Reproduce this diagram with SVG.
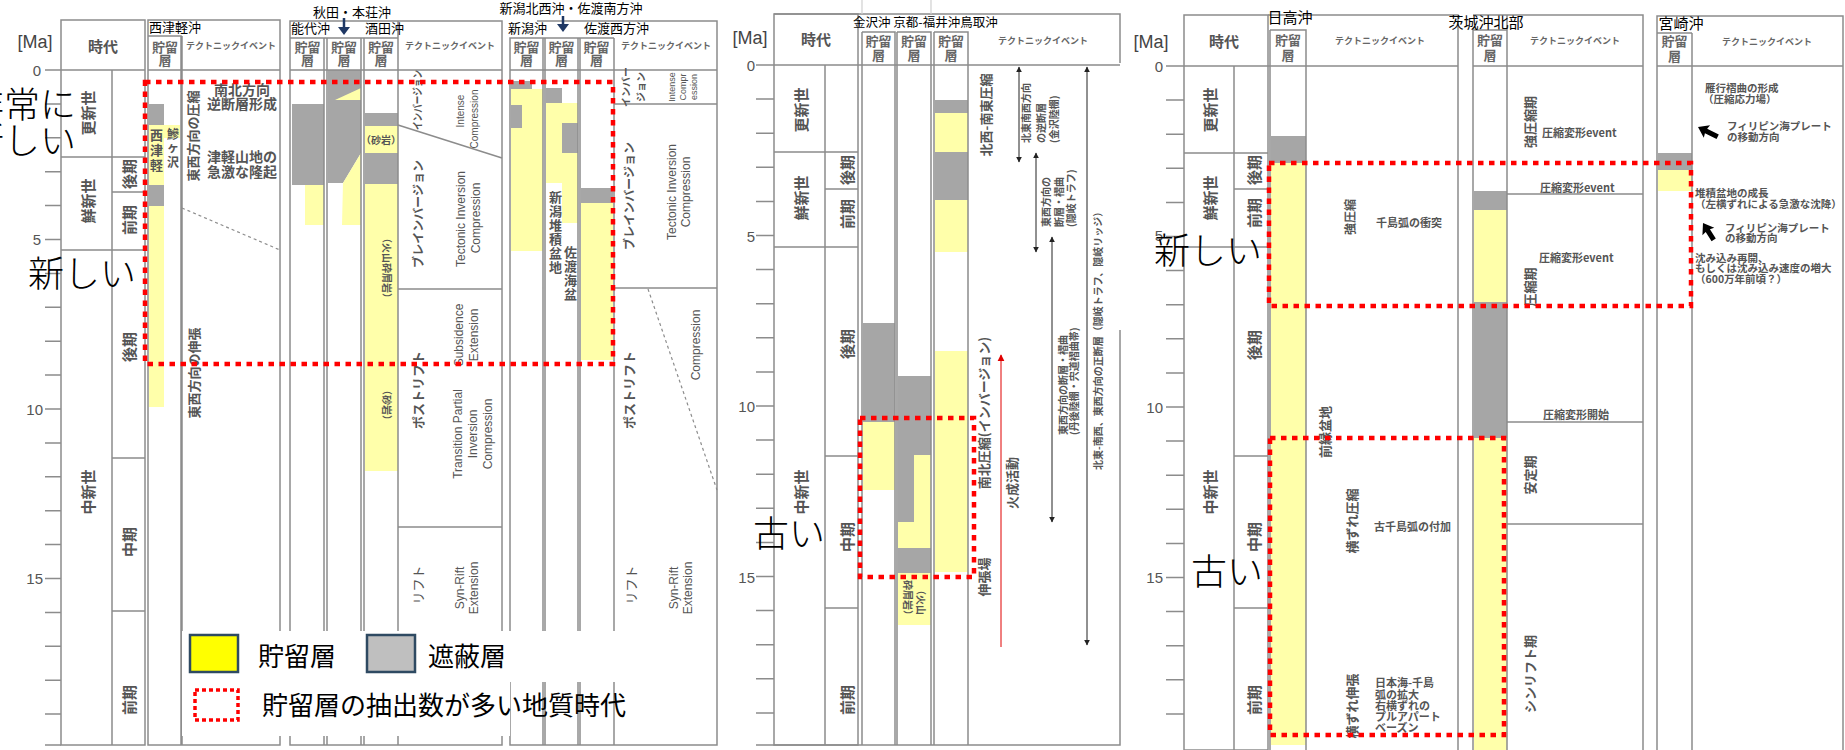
<svg xmlns="http://www.w3.org/2000/svg" width="1845" height="750" viewBox="0 0 1845 750">
<defs>
<style>
.ln{stroke:#8c8c8c;stroke-width:1.5;fill:none}
.bx{fill:#fff;stroke:#8c8c8c;stroke-width:1.5}
.y{fill:#ffffaa}
.g{fill:#a6a6a6}
.rd{fill:none;stroke:#ff0000;stroke-width:4.5;stroke-dasharray:5.5 5.5}
text{font-family:"Noto Sans CJK JP","Noto Sans",sans-serif}
.hd{font-size:15px;font-weight:bold;fill:#555;text-anchor:middle}
.sh{font-size:13px;font-weight:bold;fill:#666;text-anchor:middle}
.te{font-size:9px;font-weight:bold;fill:#666;text-anchor:middle}
.era{font-size:15px;font-weight:bold;fill:#555;text-anchor:middle;dominant-baseline:central}
.num{font-family:"Liberation Sans",Arial,sans-serif;font-size:15px;fill:#555;text-anchor:end;dominant-baseline:central}
.ma{font-family:"Liberation Sans",Arial,sans-serif;font-size:18px;fill:#444;text-anchor:middle;dominant-baseline:central}
.ttl{font-size:13px;fill:#000}
.v{font-size:13px;font-weight:bold;fill:#555;text-anchor:middle;dominant-baseline:central}
.vs{font-size:10px;font-weight:bold;fill:#555;dominant-baseline:central}
.en{font-family:"Liberation Sans",Arial,sans-serif;font-size:12px;fill:#555;text-anchor:middle;dominant-baseline:central}
.en2{font-family:"Liberation Sans",Arial,sans-serif;font-size:10px;fill:#555;text-anchor:middle;dominant-baseline:central}
.big{font-size:36px;fill:#000;font-weight:300}
.ev{font-size:11px;font-weight:bold;fill:#555}
.ev2{font-size:10.5px;font-weight:bold;fill:#555}
.st{font-size:14px;font-weight:bold;fill:#555;text-anchor:middle}
.lg{font-size:26px;fill:#000}
</style>
<marker id="ah" viewBox="0 0 10 10" refX="9" refY="5" markerWidth="6" markerHeight="7" markerUnits="userSpaceOnUse" orient="auto-start-reverse"><path d="M0,0L10,5L0,10z" fill="#222"/></marker>
<marker id="ahr" viewBox="0 0 10 10" refX="9" refY="5" markerWidth="7" markerHeight="8" markerUnits="userSpaceOnUse" orient="auto-start-reverse"><path d="M0,0L10,5L0,10z" fill="#e00000"/></marker>
</defs>
<rect width="1845" height="750" fill="#fff"/>

<!-- ================= LEFT PANEL ================= -->
<g id="left-time">
<rect class="bx" x="61" y="20" width="84" height="725"/>
<path class="ln" d="M45 70H145M112 70V745M61 157H145M61 250H145M112 192H145M112 458H145M112 611H145"/>
<path class="ln" d="M45 103.9H61M45 137.8H61M45 171.7H61M45 205.6H61M45 239.5H61M45 273.4H61M45 307.3H61M45 341.2H61M45 375.1H61M45 409H61M45 442.9H61M45 476.8H61M45 510.7H61M45 544.6H61M45 578.5H61M45 612.4H61M45 646.3H61M45 680.2H61M45 714.1H61M45 745H61"/>
<text class="ma" x="35" y="42">[Ma]</text>
<text class="num" x="41" y="70">0</text>
<text class="num" x="41" y="239.5">5</text>
<text class="num" x="43" y="409">10</text>
<text class="num" x="43" y="578.5">15</text>
<text class="hd" x="103" y="52">時代</text>
<text class="era" transform="translate(87,113) rotate(-90)">更新世</text>
<text class="era" transform="translate(87,201) rotate(-90)">鮮新世</text>
<text class="era" transform="translate(128,174) rotate(-90)">後期</text>
<text class="era" transform="translate(128,220) rotate(-90)">前期</text>
<text class="era" transform="translate(128,347) rotate(-90)">後期</text>
<text class="era" transform="translate(87,492) rotate(-90)">中新世</text>
<text class="era" transform="translate(128,542) rotate(-90)">中期</text>
<text class="era" transform="translate(128,700) rotate(-90)">前期</text>
</g>

<g id="nishitsugaru">
<rect class="bx" x="148" y="20" width="132" height="725"/>
<rect class="g" x="149" y="104" width="15" height="21"/>
<rect class="y" x="149" y="125" width="15" height="60"/>
<rect class="y" x="164" y="125" width="16" height="13"/>
<rect class="g" x="149" y="185" width="15" height="21"/>
<rect class="y" x="149" y="206" width="15" height="201"/>
<path class="ln" d="M148 36H181V745M182 36V745M148 70H280"/>
<text class="ttl" x="149" y="32">西津軽沖</text>
<text class="sh" x="165" y="52">貯留</text>
<text class="sh" x="165" y="65">層</text>
<text class="te" x="231" y="49">テクトニックイベント</text>
<text class="st" style="font-size:13px"><tspan x="156.5" y="140">西</tspan><tspan x="156.5" y="155">津</tspan><tspan x="156.5" y="170">軽</tspan></text>
<text class="st" style="font-size:12px"><tspan x="173" y="139">鰺</tspan><tspan x="173" y="152">ヶ</tspan><tspan x="173" y="167">沢</tspan></text>
<text class="st" x="242" y="95">南北方向</text>
<text class="st" x="242" y="109">逆断層形成</text>
<text class="st" x="242" y="162">津軽山地の</text>
<text class="st" x="242" y="177">急激な隆起</text>
<text class="v" transform="translate(192,136) rotate(-90)">東西方向の圧縮</text>
<text class="v" transform="translate(193,373) rotate(-90)">東西方向の伸張</text>
<path d="M182 208L280 250" stroke="#8c8c8c" stroke-width="1.2" stroke-dasharray="3 3" fill="none"/>
</g>

<g id="akita-honjo">
<rect class="bx" x="290" y="21" width="212" height="724"/>
<rect class="g" x="292" y="104" width="32" height="81"/>
<rect class="y" x="305" y="185" width="19" height="40"/>
<polygon class="g" points="328,70 361,70 361,153 343,183 328,183"/>
<polygon class="y" points="335,100 361,88 361,100"/>
<polygon class="y" points="343,183 361,153 361,225 342,225"/>
<rect class="g" x="365" y="113" width="33" height="13"/>
<rect class="y" x="365" y="126" width="33" height="27"/>
<rect class="g" x="365" y="153" width="33" height="31"/>
<rect class="y" x="365" y="184" width="33" height="287"/>
<path class="ln" d="M290 38H398M324 38V745M327 38V745M361 38V745M364 38V745M398 21V745M290 70H502M398 289H502M398 527H502"/>
<path d="M398 125L502 158" stroke="#8c8c8c" stroke-width="1.5"/>
<text class="ttl" x="352" y="17" text-anchor="middle">秋田・本荘沖</text>
<text class="ttl" x="291" y="33">能代沖</text>
<text class="ttl" x="365" y="33">酒田沖</text>
<path d="M344 18V28" stroke="#1f3864" stroke-width="2.5"/>
<polygon points="338,27 350,27 344,35" fill="#1f3864"/>
<text class="sh" x="307.5" y="52">貯留</text><text class="sh" x="307.5" y="65">層</text>
<text class="sh" x="344" y="52">貯留</text><text class="sh" x="344" y="65">層</text>
<text class="sh" x="381" y="52">貯留</text><text class="sh" x="381" y="65">層</text>
<text class="te" x="450" y="49">テクトニックイベント</text>
<text class="ev" x="381" y="144" text-anchor="middle" style="font-size:10px">（砂岩）</text>
<text class="vs" transform="translate(387,268) rotate(90)" text-anchor="middle">（火山砕屑岩）</text>
<text class="vs" transform="translate(387,405) rotate(90)" text-anchor="middle">（砂岩）</text>
<text class="v" transform="translate(417,100) rotate(-90)" style="font-size:11px" textLength="60" lengthAdjust="spacingAndGlyphs">インバージョン</text>
<text class="en2" transform="translate(460,111) rotate(-90)">Intense</text>
<text class="en2" transform="translate(474,119) rotate(-90)">Compression</text>
<text class="v" transform="translate(417,214) rotate(-90)" style="font-size:12px">ブレインバージョン</text>
<text class="en" transform="translate(461,219) rotate(-90)">Tectonic Inversion</text>
<text class="en" transform="translate(476,218) rotate(-90)">Compression</text>
<text class="en" transform="translate(459,335) rotate(-90)">Subsidence</text>
<text class="en" transform="translate(474,335) rotate(-90)">Extension</text>
<text class="v" transform="translate(417,390) rotate(-90)">ポストリフト</text>
<text class="en" transform="translate(458,434) rotate(-90)">Transition Partial</text>
<text class="en" transform="translate(473,434) rotate(-90)">Inversion</text>
<text class="en" transform="translate(488,434) rotate(-90)">Compression</text>
<text class="v" transform="translate(417,585) rotate(-90)" style="font-weight:normal">リフト</text>
<text class="en" transform="translate(460,588) rotate(-90)">Syn-Rift</text>
<text class="en" transform="translate(474,588) rotate(-90)">Extension</text>
</g>

<g id="niigata-sado">
<rect x="510" y="38" width="207" height="707" fill="#fff"/>
<rect class="g" x="511" y="81" width="21" height="8"/>
<rect class="y" x="511" y="89" width="32" height="162"/>
<rect class="g" x="511" y="105" width="11" height="23"/>
<rect class="g" x="546" y="88" width="16" height="15"/>
<rect class="y" x="546" y="103" width="32" height="20"/>
<rect class="y" x="546" y="123" width="16" height="60"/>
<rect class="g" x="562" y="123" width="16" height="30"/>
<rect class="y" x="562" y="153" width="16" height="70"/>
<rect class="g" x="581" y="188" width="32" height="15"/>
<rect class="y" x="581" y="203" width="32" height="157"/>
<path class="ln" d="M537 21H717V745H510V38H614M543 38V745M545 38V745M578 38V745M580 38V745M614 38V745M510 70H717M614 104H717M614 288H717"/>
<path d="M648 289L717 490" stroke="#8c8c8c" stroke-width="1.2" stroke-dasharray="3 3" fill="none"/>
<text class="ttl" x="571" y="13" text-anchor="middle">新潟北西沖・佐渡南方沖</text>
<text class="ttl" x="508" y="33">新潟沖</text>
<text class="ttl" x="584" y="33">佐渡西方沖</text>
<path d="M563 16V25" stroke="#1f3864" stroke-width="2.5"/>
<polygon points="557,24 569,24 563,32" fill="#1f3864"/>
<text class="sh" x="526.5" y="52">貯留</text><text class="sh" x="526.5" y="65">層</text>
<text class="sh" x="561.5" y="52">貯留</text><text class="sh" x="561.5" y="65">層</text>
<text class="sh" x="596.5" y="52">貯留</text><text class="sh" x="596.5" y="65">層</text>
<text class="te" x="666" y="49">テクトニックイベント</text>
<text class="st" style="font-size:13px"><tspan x="555.5" y="202">新</tspan><tspan x="555.5" y="216">潟</tspan><tspan x="555.5" y="230">堆</tspan><tspan x="555.5" y="244">積</tspan><tspan x="555.5" y="258">盆</tspan><tspan x="555.5" y="272">地</tspan></text>
<text class="st" style="font-size:13px"><tspan x="570.5" y="257">佐</tspan><tspan x="570.5" y="271">渡</tspan><tspan x="570.5" y="285">海</tspan><tspan x="570.5" y="299">盆</tspan></text>
<text class="v" transform="translate(625,87) rotate(-90)" style="font-size:10px">インバー</text>
<text class="v" transform="translate(640,87) rotate(-90)" style="font-size:10px">ジョン</text>
<text class="en2" transform="translate(672,87) rotate(-90)" style="font-size:9px">Intense</text>
<text class="en2" transform="translate(683,87) rotate(-90)" style="font-size:9px">Compr</text>
<text class="en2" transform="translate(694,87) rotate(-90)" style="font-size:9px">ession</text>
<text class="v" transform="translate(628,196) rotate(-90)" style="font-size:12px">ブレインバージョン</text>
<text class="en" transform="translate(672,192) rotate(-90)">Tectonic Inversion</text>
<text class="en" transform="translate(686,192) rotate(-90)">Compression</text>
<text class="v" transform="translate(628,390) rotate(-90)">ポストリフト</text>
<text class="en" transform="translate(696,345) rotate(-90)">Compression</text>
<text class="v" transform="translate(630,585) rotate(-90)" style="font-weight:normal">リフト</text>
<text class="en" transform="translate(674,588) rotate(-90)">Syn-Rift</text>
<text class="en" transform="translate(688,588) rotate(-90)">Extension</text>
</g>

<rect class="rd" x="145" y="82" width="468" height="282"/>

<g id="legend">
<rect x="182" y="631" width="434" height="51" fill="#fff"/>
<rect x="182" y="631" width="328" height="105" fill="#fff"/>
<rect x="190" y="635" width="48" height="37" fill="#ffff00" stroke="#2e4a62" stroke-width="2.5"/>
<text class="lg" x="258" y="666">貯留層</text>
<rect x="367" y="635" width="48" height="37" fill="#bfbfbf" stroke="#2e4a62" stroke-width="2.5"/>
<text class="lg" x="428" y="666">遮蔽層</text>
<rect x="195" y="690" width="43" height="30" fill="none" stroke="#ff0000" stroke-width="3.5" stroke-dasharray="4 3"/>
<text class="lg" x="262" y="715">貯留層の抽出数が多い地質時代</text>
</g>

<text class="big" x="76" y="118" text-anchor="end">非常に</text>
<text class="big" x="76" y="154" text-anchor="end">新しい</text>
<text class="big" x="28" y="287">新しい</text>

<!-- ================= MIDDLE PANEL ================= -->
<g id="middle-time">
<rect class="bx" x="774" y="14" width="84" height="731"/>
<path class="ln" d="M756 65H1120M825 65V745M774 152H858M774 247H858M825 189H858M825 456H858M825 608H858M774 14H1120V63M1120 330V745H756"/>
<path d="M862 0V14M931 0V14" stroke="#d0d0d0" stroke-width="1.2"/>
<path class="ln" d="M756 99.1H774M756 133.2H774M756 167.3H774M756 201.4H774M756 235.5H774M756 269.6H774M756 303.7H774M756 337.8H774M756 371.9H774M756 406H774M756 440.1H774M756 474.2H774M756 508.3H774M756 542.4H774M756 576.5H774M756 610.6H774M756 644.7H774M756 678.8H774M756 712.9H774"/>
<text class="ma" x="750" y="38">[Ma]</text>
<text class="num" x="755" y="65">0</text>
<text class="num" x="755" y="236">5</text>
<text class="num" x="755" y="406">10</text>
<text class="num" x="755" y="577">15</text>
<text class="hd" x="816" y="45">時代</text>
<text class="era" transform="translate(800,110) rotate(-90)">更新世</text>
<text class="era" transform="translate(800,198) rotate(-90)">鮮新世</text>
<text class="era" transform="translate(846,170) rotate(-90)">後期</text>
<text class="era" transform="translate(846,214) rotate(-90)">前期</text>
<text class="era" transform="translate(846,344) rotate(-90)">後期</text>
<text class="era" transform="translate(800,492) rotate(-90)">中新世</text>
<text class="era" transform="translate(846,537) rotate(-90)">中期</text>
<text class="era" transform="translate(846,700) rotate(-90)">前期</text>
</g>

<g id="hokuriku-sanin">
<rect class="g" x="863" y="323" width="32" height="99"/>
<rect class="y" x="863" y="422" width="32" height="68"/>
<rect class="g" x="898" y="376" width="33" height="79"/>
<rect class="g" x="898" y="455" width="16" height="67"/>
<rect class="y" x="914" y="455" width="17" height="93"/>
<rect class="y" x="898" y="522" width="16" height="26"/>
<rect class="g" x="898" y="548" width="33" height="25"/>
<rect class="y" x="898" y="573" width="33" height="52"/>
<rect class="g" x="935" y="100" width="33" height="13"/>
<rect class="y" x="935" y="113" width="33" height="39"/>
<rect class="g" x="935" y="152" width="33" height="48"/>
<rect class="y" x="935" y="200" width="33" height="52"/>
<rect class="y" x="935" y="351" width="33" height="221"/>
<path class="ln" d="M862 32H895V745M862 32V745M897 32H931V745M897 32V745M934 32H968V745M934 32V745"/>
<text class="ttl" x="853" y="27" style="font-size:12.5px">金沢沖 京都-福井沖鳥取沖</text>
<text class="sh" x="878.5" y="46">貯留</text><text class="sh" x="878.5" y="60">層</text>
<text class="sh" x="914" y="46">貯留</text><text class="sh" x="914" y="60">層</text>
<text class="sh" x="951" y="46">貯留</text><text class="sh" x="951" y="60">層</text>
<text class="te" x="1043" y="44">テクトニックイベント</text>
<text class="vs" transform="translate(921,600) rotate(90)" text-anchor="middle">（火山</text>
<text class="vs" transform="translate(908,600) rotate(90)" text-anchor="middle">砕屑岩）</text>
<text class="v" transform="translate(985,115) rotate(-90)">北西-南東圧縮</text>
<text class="v" transform="translate(983,413) rotate(-90)">南北圧縮(インバージョン)</text>
<text class="v" transform="translate(983,577) rotate(-90)">伸張場</text>
<text class="v" transform="translate(1011,483) rotate(-90)">火成活動</text>
<text class="vs" transform="translate(1025,143) rotate(-90)">北東南西方向</text>
<text class="vs" transform="translate(1040,143) rotate(-90)">の逆断層</text>
<text class="vs" transform="translate(1053,143) rotate(-90)">(金沢陸棚)</text>
<text class="vs" transform="translate(1045,227) rotate(-90)">東西方向の</text>
<text class="vs" transform="translate(1058,227) rotate(-90)">断層・褶曲</text>
<text class="vs" transform="translate(1070,227) rotate(-90)">(隠岐トラフ)</text>
<text class="vs" transform="translate(1062,435) rotate(-90)">東西方向の断層・褶曲</text>
<text class="vs" transform="translate(1073,435) rotate(-90)">(丹後陸棚・宍道褶曲帯)</text>
<text class="vs" transform="translate(1097,470) rotate(-90)">北東-南西、東西方向の正断層（隠岐トラフ、隠岐リッジ）</text>
</g>

<rect class="rd" x="860" y="418" width="114" height="159"/>
<text class="big" x="753" y="547">古い</text>

<!-- ================= RIGHT PANEL ================= -->
<g id="right-time">
<rect x="1184" y="15" width="84" height="735" fill="#fff" stroke="#8c8c8c" stroke-width="1.5"/>
<path class="ln" d="M1166 66H1458M1234 66V750M1184 153H1268M1184 247H1268M1234 189H1268M1234 456H1268M1234 608H1268"/>
<path class="ln" d="M1166 100.1H1184M1166 134.2H1184M1166 168.3H1184M1166 202.4H1184M1166 236.5H1184M1166 270.6H1184M1166 304.7H1184M1166 338.8H1184M1166 372.9H1184M1166 407H1184M1166 441.1H1184M1166 475.2H1184M1166 509.3H1184M1166 543.4H1184M1166 577.5H1184M1166 611.6H1184M1166 645.7H1184M1166 679.8H1184M1166 713.9H1184"/>
<text class="ma" x="1151" y="42">[Ma]</text>
<text class="num" x="1163" y="66">0</text>
<text class="num" x="1163" y="235">5</text>
<text class="num" x="1163" y="407">10</text>
<text class="num" x="1163" y="577">15</text>
<text class="hd" x="1224" y="47">時代</text>
<text class="era" transform="translate(1209,110) rotate(-90)">更新世</text>
<text class="era" transform="translate(1209,198) rotate(-90)">鮮新世</text>
<text class="era" transform="translate(1253,170) rotate(-90)">後期</text>
<text class="era" transform="translate(1253,213) rotate(-90)">前期</text>
<text class="era" transform="translate(1253,345) rotate(-90)">後期</text>
<text class="era" transform="translate(1209,492) rotate(-90)">中新世</text>
<text class="era" transform="translate(1253,537) rotate(-90)">中期</text>
<text class="era" transform="translate(1253,700) rotate(-90)">前期</text>
</g>

<g id="hidaka">
<rect class="g" x="1271" y="136" width="35" height="27"/>
<rect class="y" x="1271" y="163" width="35" height="582"/>
<path class="ln" d="M1268 15H1458V750M1270 30H1306V750M1270 30V750"/>
<text class="ttl" x="1290" y="23" text-anchor="middle" style="font-size:15px">日高沖</text>
<text class="sh" x="1288" y="45">貯留</text><text class="sh" x="1288" y="60">層</text>
<text class="te" x="1380" y="44">テクトニックイベント</text>
<text class="v" transform="translate(1349,217) rotate(-90)" style="font-size:12px">強圧縮</text>
<text class="ev" x="1376" y="227">千島弧の衝突</text>
<text class="v" transform="translate(1324,432) rotate(-90)">前縁盆地</text>
<text class="v" transform="translate(1351,521) rotate(-90)">横ずれ圧縮</text>
<text class="ev" x="1374" y="531">古千島弧の付加</text>
<text class="v" transform="translate(1351,706) rotate(-90)">横ずれ伸張</text>
<text class="ev"><tspan x="1375" y="687">日本海-千島</tspan><tspan x="1375" y="699">弧の拡大</tspan><tspan x="1375" y="710">右横ずれの</tspan><tspan x="1375" y="721">プルアパート</tspan><tspan x="1375" y="732">ベーズン</tspan></text>
</g>

<g id="ibaraki">
<rect class="g" x="1474" y="191" width="33" height="19"/>
<rect class="y" x="1474" y="210" width="33" height="92"/>
<rect class="g" x="1474" y="302" width="33" height="136"/>
<rect class="y" x="1474" y="438" width="33" height="312"/>
<path class="ln" d="M1473 750V30H1507V750M1473 15H1643V750M1507 15V30M1473 66H1643M1507 194H1643M1507 422H1643M1507 524H1643"/>
<text class="ttl" x="1486" y="28" text-anchor="middle" style="font-size:15px">茨城沖北部</text>
<text class="sh" x="1490" y="45">貯留</text><text class="sh" x="1490" y="60">層</text>
<text class="te" x="1575" y="44">テクトニックイベント</text>
<text class="v" transform="translate(1529,122) rotate(-90)">強圧縮期</text>
<text class="ev" x="1542" y="137">圧縮変形event</text>
<text class="ev" x="1540" y="192">圧縮変形event</text>
<text class="ev" x="1539" y="262">圧縮変形event</text>
<text class="v" transform="translate(1529,287) rotate(-90)">圧縮期</text>
<text class="ev" x="1543" y="419">圧縮変形開始</text>
<text class="v" transform="translate(1529,475) rotate(-90)">安定期</text>
<text class="v" transform="translate(1529,674) rotate(-90)">シンリフト期</text>
</g>

<g id="miyazaki">
<rect class="g" x="1658" y="153" width="34" height="17"/>
<rect class="y" x="1658" y="170" width="34" height="21"/>
<path class="ln" d="M1657 750V16H1843V750M1692 33V750M1657 33H1692M1657 66H1843"/>
<text class="ttl" x="1681" y="29" text-anchor="middle" style="font-size:15px">宮崎沖</text>
<text class="sh" x="1674.5" y="46">貯留</text><text class="sh" x="1674.5" y="61">層</text>
<text class="te" x="1767" y="45">テクトニックイベント</text>
<text class="ev2"><tspan x="1705" y="92">雁行褶曲の形成</tspan><tspan x="1703" y="103">（圧縮応力場）</tspan></text>
<polygon points="0,0 -10,-7 -9,-2.5 -22,-2.5 -22,2.5 -9,2.5 -10,7" fill="#000" transform="translate(1698,127) rotate(206.6)"/>
<text class="ev2"><tspan x="1727" y="130">フィリピン海プレート</tspan><tspan x="1727" y="141">の移動方向</tspan></text>
<text class="ev2"><tspan x="1695" y="197">堆積盆地の成長</tspan><tspan x="1695" y="208">（左横ずれによる急激な沈降）</tspan></text>
<polygon points="0,0 -10,-7 -9,-2.5 -20,-2.5 -20,2.5 -9,2.5 -10,7" fill="#000" transform="translate(1703,223) rotate(237.7)"/>
<text class="ev2"><tspan x="1725" y="232">フィリピン海プレート</tspan><tspan x="1725" y="242">の移動方向</tspan></text>
<text class="ev2"><tspan x="1695" y="262">沈み込み再開、</tspan><tspan x="1695" y="272">もしくは沈み込み速度の増大</tspan><tspan x="1695" y="283">（600万年前頃？）</tspan></text>
</g>

<rect class="rd" x="1269" y="163" width="422" height="143"/>
<rect class="rd" x="1270" y="438" width="234" height="297"/>
<text class="big" x="1154" y="264">新しい</text>
<text class="big" x="1191" y="585">古い</text>

<g id="connectors">
<line x1="1019" y1="67" x2="1019" y2="162" stroke="#222" stroke-width="1" marker-start="url(#ah)" marker-end="url(#ah)"/>
<line x1="1036" y1="153" x2="1036" y2="252" stroke="#222" stroke-width="1" marker-start="url(#ah)" marker-end="url(#ah)"/>
<line x1="1052" y1="237" x2="1052" y2="522" stroke="#222" stroke-width="1" marker-start="url(#ah)" marker-end="url(#ah)"/>
<line x1="1087" y1="67" x2="1087" y2="645" stroke="#222" stroke-width="1" marker-start="url(#ah)" marker-end="url(#ah)"/>
<line x1="1001" y1="647" x2="1001" y2="355" stroke="#e00000" stroke-width="1" marker-end="url(#ahr)"/>
</g>
</svg>
